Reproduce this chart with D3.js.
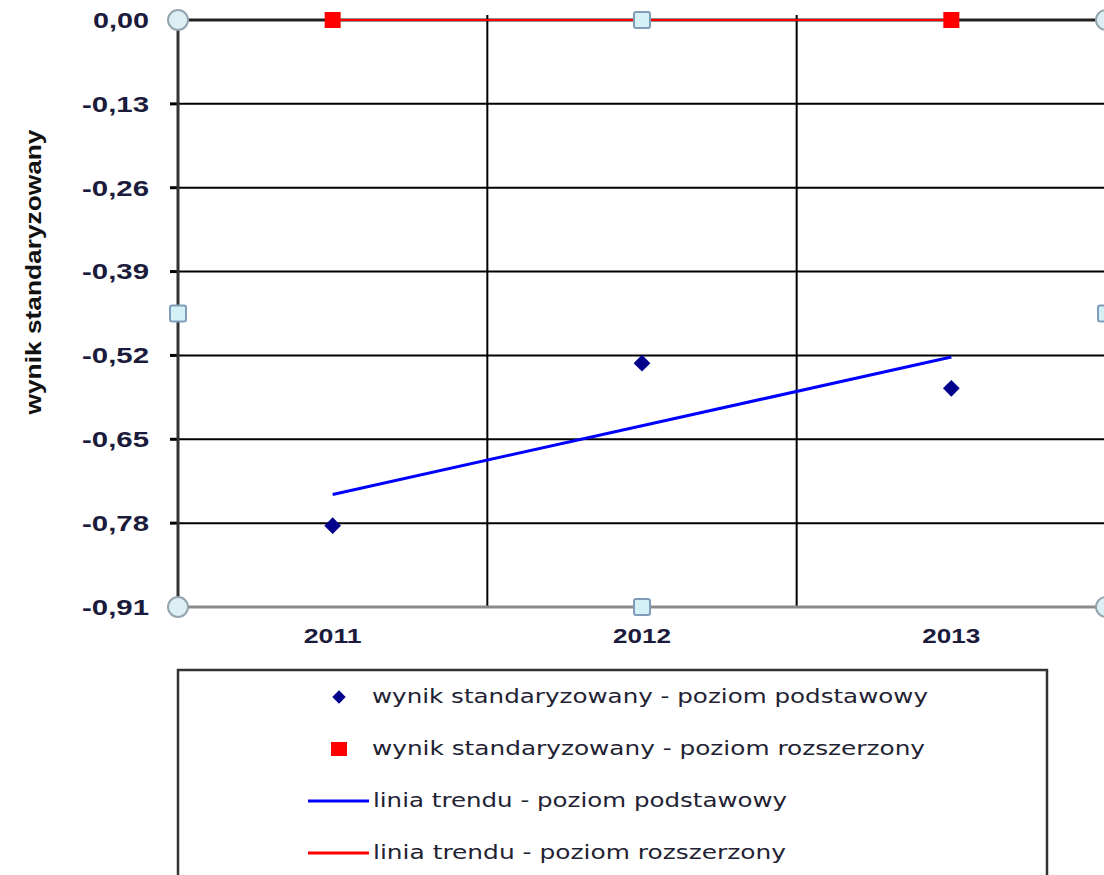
<!DOCTYPE html>
<meta charset="utf-8">
<script src="https://d3js.org/d3.v7.min.js"></script>
<style>
body { margin: 0; background: #fff; }
svg { display: block; }
.grid line { stroke: #000; stroke-width: 2px; }
</style>
<body>
<div id="chart"></div>
<script>

// data
var years = ["2011", "2012", "2013"];
var basic = [-0.784, -0.532, -0.571];     // poziom podstawowy
var extended = [0, 0, 0];                  // poziom rozszerzony
var yTicks = [0, -0.13, -0.26, -0.39, -0.52, -0.65, -0.78, -0.91];
var yTickLabels = ["0,00", "-0,13", "-0,26", "-0,39", "-0,52", "-0,65", "-0,78", "-0,91"];
var legendLabels = [
  "wynik standaryzowany - poziom podstawowy",
  "wynik standaryzowany - poziom rozszerzony",
  "linia trendu - poziom podstawowy",
  "linia trendu - poziom rozszerzony"
];

var W = 1104, H = 875;
var pLeft = 178, pRight = 1106, pTop = 20, pBottom = 607;

var svg = d3.select("#chart").append("svg")
  .attr("width", W).attr("height", H);

var x = d3.scaleBand().domain(years).range([pLeft, pRight]);
var y = d3.scaleLinear().domain([-0.91, 0]).range([pBottom, pTop]);
var cx = function(d) { return x(d) + x.bandwidth() / 2; };

// linear trend (least squares on year index)
function trend(vals) {
  var n = vals.length, mx = (n - 1) / 2, my = d3.mean(vals);
  var num = 0, den = 0;
  vals.forEach(function(v, i) { num += (i - mx) * (v - my); den += (i - mx) * (i - mx); });
  var b = den ? num / den : 0;
  return vals.map(function(v, i) { return my + b * (i - mx); });
}

// horizontal grid
svg.append("g").attr("class", "grid")
  .selectAll("line").data(yTicks.slice(1, -1)).enter().append("line")
  .attr("x1", pLeft).attr("x2", pRight)
  .attr("y1", function(d) { return y(d); }).attr("y2", function(d) { return y(d); });

// vertical grid at category boundaries
svg.append("g").attr("class", "grid")
  .selectAll("line").data(years.slice(1)).enter().append("line")
  .attr("x1", function(d) { return x(d); }).attr("x2", function(d) { return x(d); })
  .attr("y1", pTop - 5).attr("y2", pBottom);

// left tick marks
svg.append("g").selectAll("line").data(yTicks.slice(1, -1)).enter().append("line")
  .attr("x1", pLeft - 8).attr("x2", pLeft)
  .attr("y1", function(d) { return y(d); }).attr("y2", function(d) { return y(d); })
  .attr("stroke", "#000").attr("stroke-width", 3);

// axes lines
svg.append("line").attr("x1", pLeft).attr("x2", pRight).attr("y1", pBottom).attr("y2", pBottom)
  .attr("stroke", "#8a8a8a").attr("stroke-width", 3);
svg.append("line").attr("x1", pLeft).attr("x2", pRight).attr("y1", y(0)).attr("y2", y(0))
  .attr("stroke", "#222").attr("stroke-width", 3);
svg.append("line").attr("x1", pLeft).attr("x2", pLeft).attr("y1", pTop).attr("y2", pBottom)
  .attr("stroke", "#333").attr("stroke-width", 3);

// y tick labels
var yLabW = { 4: 56, 5: 67 };
svg.append("g").selectAll("text").data(yTicks).enter().append("text")
  .attr("x", 149).attr("y", function(d) { return y(d); })
  .attr("dy", "0.36em")
  .attr("text-anchor", "end")
  .attr("font-family", "Liberation Sans, Arial, sans-serif")
  .attr("font-weight", "bold").attr("font-size", 22)
  .attr("fill", "#1b1b3c")
  .attr("textLength", function(d, i) { return yLabW[yTickLabels[i].length]; })
  .attr("lengthAdjust", "spacingAndGlyphs")
  .text(function(d, i) { return yTickLabels[i]; });

// y axis title
svg.append("text")
  .attr("transform", "translate(41,272) rotate(-90)")
  .attr("text-anchor", "middle")
  .attr("font-family", "Liberation Sans, Arial, sans-serif")
  .attr("font-weight", "bold").attr("font-size", 22)
  .attr("fill", "#111")
  .attr("textLength", 285).attr("lengthAdjust", "spacingAndGlyphs")
  .text("wynik standaryzowany");

// x labels
svg.append("g").selectAll("text").data(years).enter().append("text")
  .attr("x", cx).attr("y", 643)
  .attr("text-anchor", "middle")
  .attr("font-family", "Liberation Sans, Arial, sans-serif")
  .attr("font-weight", "bold").attr("font-size", 20)
  .attr("fill", "#1b1b3c")
  .attr("textLength", 58).attr("lengthAdjust", "spacingAndGlyphs")
  .text(function(d) { return d; });

// trend lines
var line = d3.line().x(function(d) { return cx(d.year); }).y(function(d) { return y(d.v); });
var tb = trend(basic), te = trend(extended);
svg.append("path")
  .attr("d", line(years.map(function(d, i) { return { year: d, v: te[i] }; })))
  .attr("fill", "none").attr("stroke", "#ff0000").attr("stroke-width", 2);
svg.append("path")
  .attr("d", line(years.map(function(d, i) { return { year: d, v: tb[i] }; })))
  .attr("fill", "none").attr("stroke", "#0000ff").attr("stroke-width", 3);

// points
var diamond = d3.symbol().type(d3.symbolSquare).size(140);
svg.append("g").selectAll("path").data(basic).enter().append("path")
  .attr("d", diamond)
  .attr("transform", function(d, i) { return "translate(" + cx(years[i]) + "," + y(d) + ") rotate(45)"; })
  .attr("fill", "#00008b");
svg.append("g").selectAll("rect").data(extended).enter().append("rect")
  .attr("x", function(d, i) { return cx(years[i]) - 8; })
  .attr("y", function(d) { return y(d) - 8; })
  .attr("width", 16).attr("height", 16)
  .attr("fill", "#ff0000");

// selection handles
var hx = [pLeft, (pLeft + pRight) / 2, pRight], hy = [pTop, (pTop + pBottom) / 2, pBottom];
var handles = [];
hx.forEach(function(a, i) { hy.forEach(function(b, j) {
  if (i === 1 && j === 1) return;
  handles.push({ x: a, y: b, corner: i !== 1 && j !== 1 });
}); });
svg.append("g").selectAll("circle").data(handles.filter(function(d) { return d.corner; }))
  .enter().append("circle")
  .attr("cx", function(d) { return d.x; }).attr("cy", function(d) { return d.y; })
  .attr("r", 10).attr("fill", "#dcf0f4").attr("stroke", "#93a5ae").attr("stroke-width", 2);
svg.append("g").selectAll("rect").data(handles.filter(function(d) { return !d.corner; }))
  .enter().append("rect")
  .attr("x", function(d) { return d.x - 8; }).attr("y", function(d) { return d.y - 8; })
  .attr("width", 16).attr("height", 16).attr("rx", 2)
  .attr("fill", "#d4f1f8").attr("stroke", "#7f9db8").attr("stroke-width", 2);

// legend
svg.append("rect").attr("x", 178).attr("y", 670).attr("width", 869).attr("height", 260)
  .attr("fill", "#fff").attr("stroke", "#333").attr("stroke-width", 2.5);
var rowY = [697, 749, 801, 853];
var textX = [372, 372, 373, 373];
var textW = [556, 553, 414, 413];
svg.append("path").attr("d", d3.symbol().type(d3.symbolSquare).size(90))
  .attr("transform", "translate(339," + rowY[0] + ") rotate(45)").attr("fill", "#00008b");
svg.append("rect").attr("x", 331).attr("y", rowY[1] - 7).attr("width", 16).attr("height", 14)
  .attr("fill", "#ff0000");
svg.append("line").attr("x1", 308).attr("x2", 369).attr("y1", rowY[2]).attr("y2", rowY[2])
  .attr("stroke", "#0000ff").attr("stroke-width", 3);
svg.append("line").attr("x1", 308).attr("x2", 369).attr("y1", rowY[3]).attr("y2", rowY[3])
  .attr("stroke", "#ff0000").attr("stroke-width", 3);
svg.append("g").selectAll("text").data(legendLabels).enter().append("text")
  .attr("x", function(d, i) { return textX[i]; })
  .attr("y", function(d, i) { return rowY[i]; })
  .attr("dy", "0.33em")
  .attr("font-family", "DejaVu Sans, Verdana, sans-serif")
  .attr("font-size", 19)
  .attr("fill", "#222233")
  .attr("textLength", function(d, i) { return textW[i]; })
  .attr("lengthAdjust", "spacingAndGlyphs")
  .text(function(d) { return d; });

</script>
</body>
